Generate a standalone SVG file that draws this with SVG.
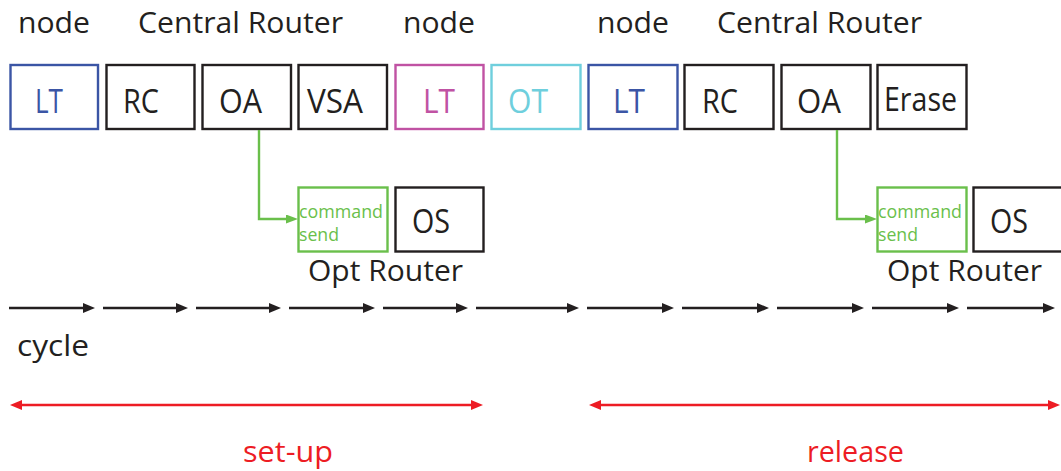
<svg xmlns="http://www.w3.org/2000/svg" width="1061" height="471" viewBox="0 0 1061 471">
<defs>
<style>
text{font-family:"Open Sans","Noto Sans","Liberation Sans",sans-serif;}
.lbl{font-size:30px;fill:#231f20;}
.bt{font-size:32px;}
.box{fill:#fff;stroke-width:2.4;}
.kb{stroke:#231f20;}
.blue{stroke:#3b55a5;}
.pink{stroke:#c052a3;}
.cyan{stroke:#6fcfdd;}
.green{stroke:#6abf4b;}
.cyc{stroke:#231f20;stroke-width:2.6;fill:none;}
.red{stroke:#ed1c24;stroke-width:2.6;fill:none;}
.grn{stroke:#6abf4b;stroke-width:2.4;fill:none;}
.cs{font-size:18px;fill:#6abf4b;}
</style>
<marker id="ak" markerUnits="userSpaceOnUse" markerWidth="14" markerHeight="12" refX="0" refY="5" orient="auto"><path d="M0,0 L12,5 L0,10 Z" fill="#231f20"/></marker>
<marker id="ag" markerUnits="userSpaceOnUse" markerWidth="14" markerHeight="12" refX="0" refY="4.5" orient="auto"><path d="M0,0 L12,4.5 L0,9 Z" fill="#6abf4b"/></marker>
<marker id="ar" markerUnits="userSpaceOnUse" markerWidth="14" markerHeight="12" refX="0" refY="5" orient="auto-start-reverse"><path d="M0,0 L12,5 L0,10 Z" fill="#ed1c24"/></marker>
</defs>
<rect width="1061" height="471" fill="#fff"/>

<g id="labels">
<text class="lbl" x="18" y="33" textLength="72" lengthAdjust="spacingAndGlyphs">node</text>
<text class="lbl" x="138" y="33" textLength="205" lengthAdjust="spacingAndGlyphs">Central Router</text>
<text class="lbl" x="403" y="33" textLength="72" lengthAdjust="spacingAndGlyphs">node</text>
<text class="lbl" x="597" y="33" textLength="72" lengthAdjust="spacingAndGlyphs">node</text>
<text class="lbl" x="717" y="33" textLength="205" lengthAdjust="spacingAndGlyphs">Central Router</text>
<text class="lbl" x="308" y="281" textLength="155" lengthAdjust="spacingAndGlyphs">Opt Router</text>
<text class="lbl" x="887" y="281" textLength="155" lengthAdjust="spacingAndGlyphs">Opt Router</text>
<text class="lbl" x="17" y="356" textLength="72" lengthAdjust="spacingAndGlyphs">cycle</text>
<text x="243" y="462" style="font-size:30px;fill:#ed1c24" textLength="90" lengthAdjust="spacingAndGlyphs">set-up</text>
<text x="807" y="462" style="font-size:30px;fill:#ed1c24" textLength="97" lengthAdjust="spacingAndGlyphs">release</text>
</g>

<g id="n-lt1"><rect class="box blue" x="10.5" y="65" width="87.5" height="64"/><text class="bt" x="35" y="113" fill="#3b55a5" textLength="28" lengthAdjust="spacingAndGlyphs">LT</text></g>
<g id="n-rc1"><rect class="box kb" x="106.5" y="65" width="88" height="64"/><text class="bt" x="123" y="113" fill="#231f20" textLength="36" lengthAdjust="spacingAndGlyphs">RC</text></g>
<g id="n-oa1"><rect class="box kb" x="202.5" y="65" width="88.5" height="64"/><text class="bt" x="219" y="113" fill="#231f20" textLength="43" lengthAdjust="spacingAndGlyphs">OA</text></g>
<g id="n-vsa"><rect class="box kb" x="298.5" y="65" width="88.5" height="64"/><text class="bt" x="307" y="113" fill="#231f20" textLength="56" lengthAdjust="spacingAndGlyphs">VSA</text></g>
<g id="n-lt2"><rect class="box pink" x="395.5" y="65" width="88" height="64"/><text class="bt" x="423" y="113" fill="#c052a3" textLength="32" lengthAdjust="spacingAndGlyphs">LT</text></g>
<g id="n-ot"><rect class="box cyan" x="491.5" y="65" width="89" height="64"/><text class="bt" x="508" y="113" fill="#6fcfdd" textLength="40" lengthAdjust="spacingAndGlyphs">OT</text></g>
<g id="n-lt3"><rect class="box blue" x="588.5" y="65" width="89" height="64"/><text class="bt" x="613" y="113" fill="#3b55a5" textLength="32" lengthAdjust="spacingAndGlyphs">LT</text></g>
<g id="n-rc2"><rect class="box kb" x="684.5" y="65" width="89" height="64"/><text class="bt" x="702" y="113" fill="#231f20" textLength="36" lengthAdjust="spacingAndGlyphs">RC</text></g>
<g id="n-oa2"><rect class="box kb" x="781.5" y="65" width="89" height="64"/><text class="bt" x="797" y="113" fill="#231f20" textLength="44" lengthAdjust="spacingAndGlyphs">OA</text></g>
<g id="n-erase"><rect class="box kb" x="877.5" y="65" width="89" height="64"/><text class="bt" x="884" y="111" fill="#231f20" textLength="73" lengthAdjust="spacingAndGlyphs">Erase</text></g>

<g id="n-cmd1"><rect class="box green" x="298.5" y="187.5" width="89" height="64"/><text class="cs" x="299" y="218" textLength="84" lengthAdjust="spacingAndGlyphs">command</text><text class="cs" x="299" y="241" textLength="40" lengthAdjust="spacingAndGlyphs">send</text></g>
<g id="n-os1"><rect class="box kb" x="395.5" y="187.5" width="88" height="64"/><text class="bt" x="412" y="233" fill="#231f20" textLength="38" lengthAdjust="spacingAndGlyphs">OS</text></g>
<g id="n-cmd2"><rect class="box green" x="877.5" y="187.5" width="89" height="64"/><text class="cs" x="878" y="218" textLength="84" lengthAdjust="spacingAndGlyphs">command</text><text class="cs" x="878" y="241" textLength="40" lengthAdjust="spacingAndGlyphs">send</text></g>
<g id="n-os2"><rect class="box kb" x="973.5" y="187.5" width="100" height="64"/><text class="bt" x="990" y="233" fill="#231f20" textLength="38" lengthAdjust="spacingAndGlyphs">OS</text></g>

<g id="connectors">
<path class="grn" d="M259,130 V219 H286" marker-end="url(#ag)"/>
<path class="grn" d="M837,130 V219 H865" marker-end="url(#ag)"/>
<line class="cyc" x1="9" y1="308" x2="83" y2="308" marker-end="url(#ak)"/>
<line class="cyc" x1="103" y1="308" x2="176" y2="308" marker-end="url(#ak)"/>
<line class="cyc" x1="196" y1="308" x2="269" y2="308" marker-end="url(#ak)"/>
<line class="cyc" x1="289" y1="308" x2="363" y2="308" marker-end="url(#ak)"/>
<line class="cyc" x1="383" y1="308" x2="456" y2="308" marker-end="url(#ak)"/>
<line class="cyc" x1="476" y1="308" x2="567" y2="308" marker-end="url(#ak)"/>
<line class="cyc" x1="587" y1="308" x2="662" y2="308" marker-end="url(#ak)"/>
<line class="cyc" x1="682" y1="308" x2="757" y2="308" marker-end="url(#ak)"/>
<line class="cyc" x1="777" y1="308" x2="852" y2="308" marker-end="url(#ak)"/>
<line class="cyc" x1="872" y1="308" x2="947" y2="308" marker-end="url(#ak)"/>
<line class="cyc" x1="967" y1="308" x2="1043" y2="308" marker-end="url(#ak)"/>
<line class="red" x1="22" y1="405" x2="471" y2="405" marker-start="url(#ar)" marker-end="url(#ar)"/>
<line class="red" x1="601" y1="405" x2="1048" y2="405" marker-start="url(#ar)" marker-end="url(#ar)"/>
</g>
</svg>
